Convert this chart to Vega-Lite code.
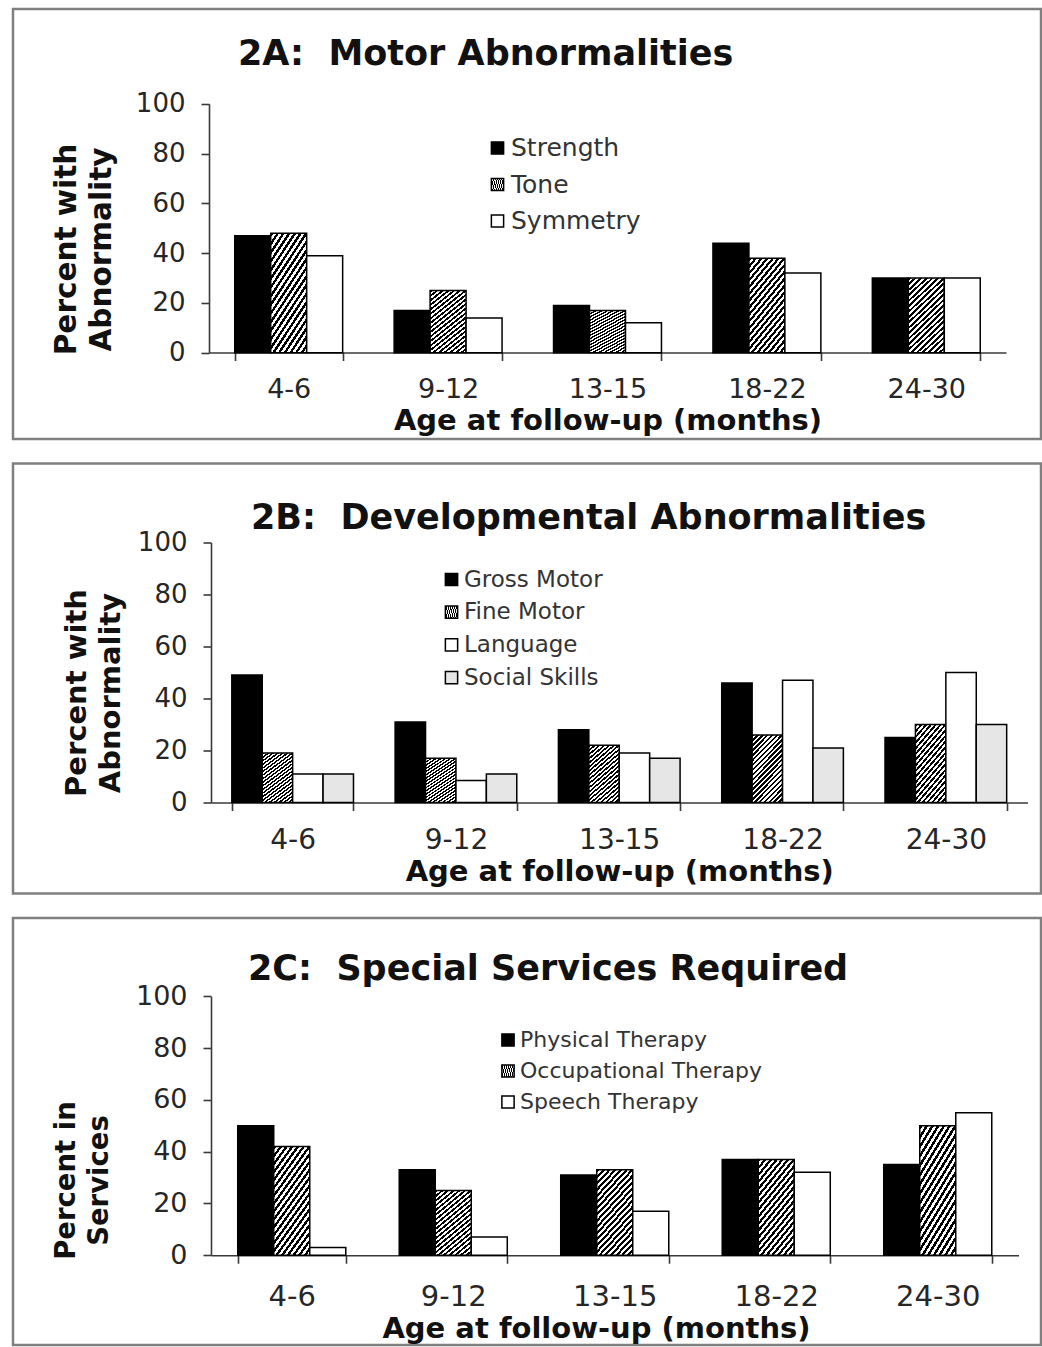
{
  "$schema": "https://vega.github.io/schema/vega-lite/v6.json",
  "padding": {"top": 7, "left": 11, "right": 0, "bottom": 0},
  "autosize": {"type": "pad"},
  "spacing": 20.5,
  "resolve": {"scale": {"fill": "independent", "xOffset": "independent", "x": "independent", "y": "independent"}, "legend": {"fill": "independent"}, "axis": {"x": "independent", "y": "independent"}},
  "params": [
    {"name": "hatch", "expr": "{gradient:'linear',x1:0,y1:0,x2:0.55,y2:1.2,stops:[{offset:0,color:'#000'},{offset:0.025,color:'#000'},{offset:0.025,color:'#fff'},{offset:0.05,color:'#fff'},{offset:0.05,color:'#000'},{offset:0.075,color:'#000'},{offset:0.075,color:'#fff'},{offset:0.1,color:'#fff'},{offset:0.1,color:'#000'},{offset:0.125,color:'#000'},{offset:0.125,color:'#fff'},{offset:0.15,color:'#fff'},{offset:0.15,color:'#000'},{offset:0.175,color:'#000'},{offset:0.175,color:'#fff'},{offset:0.2,color:'#fff'},{offset:0.2,color:'#000'},{offset:0.225,color:'#000'},{offset:0.225,color:'#fff'},{offset:0.25,color:'#fff'},{offset:0.25,color:'#000'},{offset:0.275,color:'#000'},{offset:0.275,color:'#fff'},{offset:0.3,color:'#fff'},{offset:0.3,color:'#000'},{offset:0.325,color:'#000'},{offset:0.325,color:'#fff'},{offset:0.35,color:'#fff'},{offset:0.35,color:'#000'},{offset:0.375,color:'#000'},{offset:0.375,color:'#fff'},{offset:0.4,color:'#fff'},{offset:0.4,color:'#000'},{offset:0.425,color:'#000'},{offset:0.425,color:'#fff'},{offset:0.45,color:'#fff'},{offset:0.45,color:'#000'},{offset:0.475,color:'#000'},{offset:0.475,color:'#fff'},{offset:0.5,color:'#fff'},{offset:0.5,color:'#000'},{offset:0.525,color:'#000'},{offset:0.525,color:'#fff'},{offset:0.55,color:'#fff'},{offset:0.55,color:'#000'},{offset:0.575,color:'#000'},{offset:0.575,color:'#fff'},{offset:0.6,color:'#fff'},{offset:0.6,color:'#000'},{offset:0.625,color:'#000'},{offset:0.625,color:'#fff'},{offset:0.65,color:'#fff'},{offset:0.65,color:'#000'},{offset:0.675,color:'#000'},{offset:0.675,color:'#fff'},{offset:0.7,color:'#fff'},{offset:0.7,color:'#000'},{offset:0.725,color:'#000'},{offset:0.725,color:'#fff'},{offset:0.75,color:'#fff'},{offset:0.75,color:'#000'},{offset:0.775,color:'#000'},{offset:0.775,color:'#fff'},{offset:0.8,color:'#fff'},{offset:0.8,color:'#000'},{offset:0.825,color:'#000'},{offset:0.825,color:'#fff'},{offset:0.85,color:'#fff'},{offset:0.85,color:'#000'},{offset:0.875,color:'#000'},{offset:0.875,color:'#fff'},{offset:0.9,color:'#fff'},{offset:0.9,color:'#000'},{offset:0.925,color:'#000'},{offset:0.925,color:'#fff'},{offset:0.95,color:'#fff'},{offset:0.95,color:'#000'},{offset:0.975,color:'#000'},{offset:0.975,color:'#fff'},{offset:1,color:'#fff'}]}"}
  ],
  "vconcat": [
    {
      "width": 1028,
      "height": 430,
      "data": {"values": [
        {"age": "4-6", "series": "Strength", "value": 47},
        {"age": "4-6", "series": "Tone", "value": 48},
        {"age": "4-6", "series": "Symmetry", "value": 39},
        {"age": "9-12", "series": "Strength", "value": 17},
        {"age": "9-12", "series": "Tone", "value": 25},
        {"age": "9-12", "series": "Symmetry", "value": 14},
        {"age": "13-15", "series": "Strength", "value": 19},
        {"age": "13-15", "series": "Tone", "value": 17},
        {"age": "13-15", "series": "Symmetry", "value": 12},
        {"age": "18-22", "series": "Strength", "value": 44},
        {"age": "18-22", "series": "Tone", "value": 38},
        {"age": "18-22", "series": "Symmetry", "value": 32},
        {"age": "24-30", "series": "Strength", "value": 30},
        {"age": "24-30", "series": "Tone", "value": 30},
        {"age": "24-30", "series": "Symmetry", "value": 30}
      ]},
      "title": {"text": "2A:\u00a0 Motor Abnormalities", "anchor": "start", "frame": "group", "dx": 225, "offset": -91, "baseline": "alphabetic", "fontSize": 35, "fontWeight": "bold", "color": "#111"},
      "mark": {"type": "bar", "stroke": "black", "strokeWidth": 1.5},
      "encoding": {
        "x": {"field": "age", "type": "nominal", "sort": ["4-6", "9-12", "13-15", "18-22", "24-30"],
          "scale": {"range": [196, 993], "paddingInner": 0.323, "paddingOuter": 0.1615},
          "axis": {"title": "Age at follow-up (months)", "labelAngle": 0, "offset": -86.5, "tickBand": "extent", "labelFontSize": 27, "labelBaseline": "middle", "labelPadding": 29, "titleFontSize": 29, "titleY": 77, "titleBaseline": "alphabetic"}},
        "xOffset": {"field": "series", "type": "nominal", "sort": ["Strength", "Tone", "Symmetry"]},
        "y": {"field": "value", "type": "quantitative",
          "scale": {"domain": [0, 100], "range": [343.75, 94.75], "nice": false},
          "axis": {"title": ["Percent with", "Abnormality"], "values": [0, 20, 40, 60, 80, 100], "offset": -196, "labelFontSize": 26, "labelPadding": 16, "titleFontSize": 29.5, "titleAngle": -90, "titleX": -143, "titleY": 240, "titleBaseline": "middle", "titleAlign": "center", "titleLineHeight": 35}},
        "fill": {"field": "series", "type": "nominal",
          "scale": {"domain": ["Strength", "Tone", "Symmetry"], "range": ["black", {"expr": "hatch"}, "white"]},
          "legend": {"orient": "none", "legendX": 472, "legendY": 126.5, "title": null, "labelFontSize": 25, "rowPadding": 10.5}}
      }
    },
    {
      "width": 1028,
      "height": 430,
      "data": {"values": [
        {"age": "4-6", "series": "Gross Motor", "value": 49},
        {"age": "4-6", "series": "Fine Motor", "value": 19},
        {"age": "4-6", "series": "Language", "value": 11},
        {"age": "4-6", "series": "Social Skills", "value": 11},
        {"age": "9-12", "series": "Gross Motor", "value": 31},
        {"age": "9-12", "series": "Fine Motor", "value": 17},
        {"age": "9-12", "series": "Language", "value": 8.5},
        {"age": "9-12", "series": "Social Skills", "value": 11},
        {"age": "13-15", "series": "Gross Motor", "value": 28},
        {"age": "13-15", "series": "Fine Motor", "value": 22},
        {"age": "13-15", "series": "Language", "value": 19},
        {"age": "13-15", "series": "Social Skills", "value": 17},
        {"age": "18-22", "series": "Gross Motor", "value": 46},
        {"age": "18-22", "series": "Fine Motor", "value": 26},
        {"age": "18-22", "series": "Language", "value": 47},
        {"age": "18-22", "series": "Social Skills", "value": 21},
        {"age": "24-30", "series": "Gross Motor", "value": 25},
        {"age": "24-30", "series": "Fine Motor", "value": 30},
        {"age": "24-30", "series": "Language", "value": 50},
        {"age": "24-30", "series": "Social Skills", "value": 30}
      ]},
      "title": {"text": "2B:\u00a0 Developmental Abnormalities", "anchor": "start", "frame": "group", "dx": 238, "offset": -100, "baseline": "alphabetic", "fontSize": 35, "fontWeight": "bold", "color": "#111"},
      "mark": {"type": "bar", "stroke": "black", "strokeWidth": 1.5},
      "encoding": {
        "x": {"field": "age", "type": "nominal", "sort": ["4-6", "9-12", "13-15", "18-22", "24-30"],
          "scale": {"range": [198, 1014.5], "paddingInner": 0.255, "paddingOuter": 0.1275},
          "axis": {"title": "Age at follow-up (months)", "labelAngle": 0, "offset": -91, "tickBand": "extent", "labelFontSize": 28, "labelBaseline": "middle", "labelPadding": 30, "titleFontSize": 29, "titleY": 78, "titleBaseline": "alphabetic"}},
        "xOffset": {"field": "series", "type": "nominal", "sort": ["Gross Motor", "Fine Motor", "Language", "Social Skills"]},
        "y": {"field": "value", "type": "quantitative",
          "scale": {"domain": [0, 100], "range": [339, 79], "nice": false},
          "axis": {"title": ["Percent with", "Abnormality"], "values": [0, 20, 40, 60, 80, 100], "offset": -198, "labelFontSize": 26, "labelPadding": 16, "titleFontSize": 29, "titleAngle": -90, "titleX": -135, "titleY": 229, "titleBaseline": "middle", "titleAlign": "center", "titleLineHeight": 34}},
        "fill": {"field": "series", "type": "nominal",
          "scale": {"domain": ["Gross Motor", "Fine Motor", "Language", "Social Skills"], "range": ["black", {"expr": "hatch"}, "white", "#e6e6e6"]},
          "legend": {"orient": "none", "legendX": 427, "legendY": 104.5, "title": null, "labelFontSize": 23, "rowPadding": 8.7}}
      }
    },
    {
      "width": 1028,
      "height": 427,
      "data": {"values": [
        {"age": "4-6", "series": "Physical Therapy", "value": 50},
        {"age": "4-6", "series": "Occupational Therapy", "value": 42},
        {"age": "4-6", "series": "Speech Therapy", "value": 3},
        {"age": "9-12", "series": "Physical Therapy", "value": 33},
        {"age": "9-12", "series": "Occupational Therapy", "value": 25},
        {"age": "9-12", "series": "Speech Therapy", "value": 7},
        {"age": "13-15", "series": "Physical Therapy", "value": 31},
        {"age": "13-15", "series": "Occupational Therapy", "value": 33},
        {"age": "13-15", "series": "Speech Therapy", "value": 17},
        {"age": "18-22", "series": "Physical Therapy", "value": 37},
        {"age": "18-22", "series": "Occupational Therapy", "value": 37},
        {"age": "18-22", "series": "Speech Therapy", "value": 32},
        {"age": "24-30", "series": "Physical Therapy", "value": 35},
        {"age": "24-30", "series": "Occupational Therapy", "value": 50},
        {"age": "24-30", "series": "Speech Therapy", "value": 55}
      ]},
      "title": {"text": "2C:\u00a0 Special Services Required", "anchor": "start", "frame": "group", "dx": 235, "offset": -96.5, "baseline": "alphabetic", "fontSize": 35, "fontWeight": "bold", "color": "#111"},
      "mark": {"type": "bar", "stroke": "black", "strokeWidth": 1.5},
      "encoding": {
        "x": {"field": "age", "type": "nominal", "sort": ["4-6", "9-12", "13-15", "18-22", "24-30"],
          "scale": {"range": [198, 1005.5], "paddingInner": 0.331, "paddingOuter": 0.1655},
          "axis": {"title": "Age at follow-up (months)", "labelAngle": 0, "offset": -89.75, "tickBand": "extent", "labelFontSize": 29, "labelBaseline": "middle", "labelPadding": 33, "titleFontSize": 29, "titleX": 583, "titleY": 82, "titleBaseline": "alphabetic"}},
        "xOffset": {"field": "series", "type": "nominal", "sort": ["Physical Therapy", "Occupational Therapy", "Speech Therapy"]},
        "y": {"field": "value", "type": "quantitative",
          "scale": {"domain": [0, 100], "range": [337.25, 78.25], "nice": false},
          "axis": {"title": ["Percent in", "Services"], "values": [0, 20, 40, 60, 80, 100], "offset": -198, "labelFontSize": 27, "labelPadding": 16, "titleFontSize": 27.5, "titleAngle": -90, "titleX": -145, "titleY": 262, "titleBaseline": "middle", "titleAlign": "center", "titleLineHeight": 33}},
        "fill": {"field": "series", "type": "nominal",
          "scale": {"domain": ["Physical Therapy", "Occupational Therapy", "Speech Therapy"], "range": ["black", {"expr": "hatch"}, "white"]},
          "legend": {"orient": "none", "legendX": 484, "legendY": 111, "title": null, "labelFontSize": 22, "rowPadding": 9}}
      }
    }
  ],
  "config": {
    "font": "DejaVu Sans",
    "view": {"stroke": "#808080", "strokeWidth": 2.5},
    "axis": {"domainColor": "#3a3a3a", "domainWidth": 1.6, "tickColor": "#3a3a3a", "tickWidth": 1.6, "tickSize": 8, "labelColor": "#262626", "labelFont": "DejaVu Sans", "titleFont": "DejaVu Sans", "titleFontWeight": "bold", "titleColor": "#111", "grid": false},
    "legend": {"symbolType": "square", "symbolSize": 150, "symbolStrokeColor": "black", "symbolStrokeWidth": 1.5, "labelColor": "#333", "labelFont": "DejaVu Sans", "labelOffset": 1, "labelLimit": 500, "padding": 0}
  }
}
